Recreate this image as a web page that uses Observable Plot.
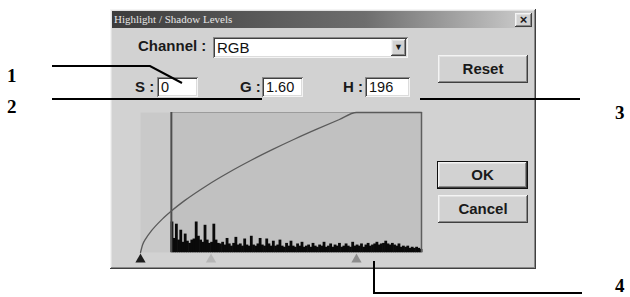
<!DOCTYPE html>
<html><head><meta charset="utf-8">
<script src="https://cdn.jsdelivr.net/npm/d3@7"></script>
<script src="https://cdn.jsdelivr.net/npm/@observablehq/plot@0.6"></script>
<style>
body{margin:0;background:#fff;}
#wrap{position:relative;width:630px;height:297px;overflow:hidden;font-family:"Liberation Sans",Arial,sans-serif;}
.abs{position:absolute;}
.raised{background:#d2d2d2;box-shadow:inset -1px -1px #404040,inset 1px 1px #f4f4f4,inset -2px -2px #8a8a8a,inset 2px 2px #e2e2e2;}
.sunken{background:#fff;box-shadow:inset 1px 1px #8a8a8a,inset -1px -1px #f4f4f4,inset 2px 2px #404040,inset -2px -2px #dcdcdc;}
.lbl{font-weight:bold;font-size:15px;color:#1a1a1a;line-height:20px;}
.val{font-size:14.5px;color:#111;line-height:20px;padding-left:4px;box-sizing:border-box;}
.btn{font-weight:bold;font-size:15px;color:#1a1a1a;text-align:center;box-sizing:border-box;}
</style></head>
<body>
<div id="wrap">
  <div id="dlg" class="abs raised" style="left:110px;top:9px;width:426px;height:260px;"></div>
  <div class="abs" style="left:112px;top:11px;width:422px;height:17px;background:linear-gradient(to right,#3c3c3c,#6e6e6e 60%,#cfcfcf);"></div>
  <div class="abs" style="left:114px;top:11px;height:17px;line-height:17px;font-family:'Liberation Serif',serif;font-size:11px;color:#e6e6e6;">Highlight / Shadow Levels</div>
  <div class="abs raised btn" style="left:515px;top:13px;width:17px;height:14px;font-size:13px;line-height:14px;">×</div>

  <div class="abs lbl" style="left:138px;top:36px;">Channel :</div>
  <div class="abs sunken val" style="left:213px;top:37px;width:195px;height:21px;line-height:21px;font-size:15px;">RGB</div>
  <div class="abs raised btn" style="left:391px;top:39px;width:15px;height:17px;font-size:9px;line-height:17px;">▼</div>

  <div class="abs lbl" style="left:135px;top:77px;">S :</div>
  <div class="abs sunken val" style="left:157px;top:77px;width:41px;height:20px;">0</div>
  <div class="abs lbl" style="left:240px;top:77px;">G :</div>
  <div class="abs sunken val" style="left:262px;top:77px;width:41px;height:20px;">1.60</div>
  <div class="abs lbl" style="left:343px;top:77px;">H :</div>
  <div class="abs sunken val" style="left:365px;top:77px;width:45px;height:20px;">196</div>

  <div class="abs raised btn" style="left:438px;top:55px;width:90px;height:28px;line-height:28px;">Reset</div>
  <div class="abs btn" style="left:437px;top:161px;width:91px;height:28px;border:1px solid #111;">
    <div class="raised" style="width:89px;height:26px;line-height:26px;">OK</div></div>
  <div class="abs raised btn" style="left:438px;top:195px;width:90px;height:28px;line-height:28px;">Cancel</div>

  <div id="chart" class="abs" style="left:0;top:0;z-index:2;"></div>

  <svg class="abs" width="630" height="297" style="left:0;top:0;z-index:3;">
    <g stroke="#000" stroke-width="2" fill="none">
      <polyline points="52,66 150,66 182,83"/>
      <line x1="52" y1="99" x2="262" y2="99"/>
      <line x1="420" y1="99" x2="580" y2="99"/>
      <polyline points="374,261 374,293 582,293"/>
    </g>
    <g font-family="'Liberation Serif',serif" font-weight="bold" font-size="19" fill="#000">
      <text x="7" y="82">1</text>
      <text x="7" y="113">2</text>
      <text x="615" y="119">3</text>
      <text x="615" y="292">4</text>
    </g>
  </svg>
</div>
<script>
// Histogram bins (input level, bin width 2) and their displayed heights
const histLevels = d3.range(28, 256, 2);
const histCounts = [
  55,25,51,22,40,18,33,20,16,22,24,55,29,22,18,49,22,16,18,51,
  22,16,15,18,13,25,15,11,16,27,13,15,11,24,13,11,29,13,11,15,
  25,13,11,24,15,11,20,11,13,22,11,9,16,11,20,11,9,15,11,18,
  9,11,13,9,16,11,9,13,11,18,9,11,15,9,13,11,16,9,11,15,
  11,9,18,11,13,11,15,9,13,16,11,13,15,18,13,15,16,20,15,13,
  16,13,11,15,9,11,9,11,7,9,7,9,7,5
];
// Gamma transfer curve (input level -> output level), S=0, G=1.60, H=196
const curveLevels = [0, 2, 5, 10, 20, 28, 40, 60, 80, 100, 120, 140, 160, 180, 196, 255];
const curveOutput = [0, 14.5, 25.8, 39.7, 61.3, 75.6, 94.5, 121.7, 145.7, 167.5, 187.7, 206.7, 224.6, 241.8, 255, 255];
// Slider markers
const sliderNames = ["shadow", "gamma", "highlight"];
const sliderLevels = [0, 64, 196];

const hist = histLevels.map((l, i) => ({level: l, count: histCounts[i]}));
const curve = curveLevels.map((l, i) => ({level: l, out: curveOutput[i]}));
const sliders = sliderNames.map((n, i) => ({name: n, level: sliderLevels[i]}));
const sliderFill = {shadow: "#1e1e1e", gamma: "#b6b6b6", highlight: "#8e8e8e"};

const plot = Plot.plot({
  width: 630, height: 297,
  marginLeft: 140, marginRight: 209, marginTop: 112, marginBottom: 45,
  x: {domain: [0, 255], axis: null},
  y: {domain: [0, 255], axis: null},
  style: {background: "transparent", overflow: "visible"},
  marks: [
    Plot.frame({fill: "#c9c9c9", stroke: null}),
    Plot.rect([histLevels[0]], {x1: d => d, x2: () => 255, y1: () => 0, y2: () => 255, fill: "#c1c1c1"}),
    Plot.ruleY([255], {x1: histLevels[0], x2: 255, stroke: "#9c9c9c", strokeWidth: 1}),
    Plot.rectY(hist, {x1: "level", x2: d => d.level + 2, y: "count", fill: "#0a0a0a", inset: -0.3}),
    Plot.ruleX([histLevels[0]], {y1: 0, y2: 255, stroke: "#4e4e4e", strokeWidth: 2}),
    Plot.ruleX([255], {y1: 0, y2: 255, stroke: "#5e5e5e", strokeWidth: 1.5}),
    Plot.line(curve, {x: "level", y: "out", curve: "monotone-x", stroke: "#5a5a5a", strokeWidth: 1.3}),
    Plot.dot(sliders, {x: "level", y: () => 0, dy: 7, symbol: "triangle", r: 3.8, fill: d => sliderFill[d.name], stroke: null})
  ]
});
document.getElementById("chart").appendChild(plot);
</script>
</body></html>
